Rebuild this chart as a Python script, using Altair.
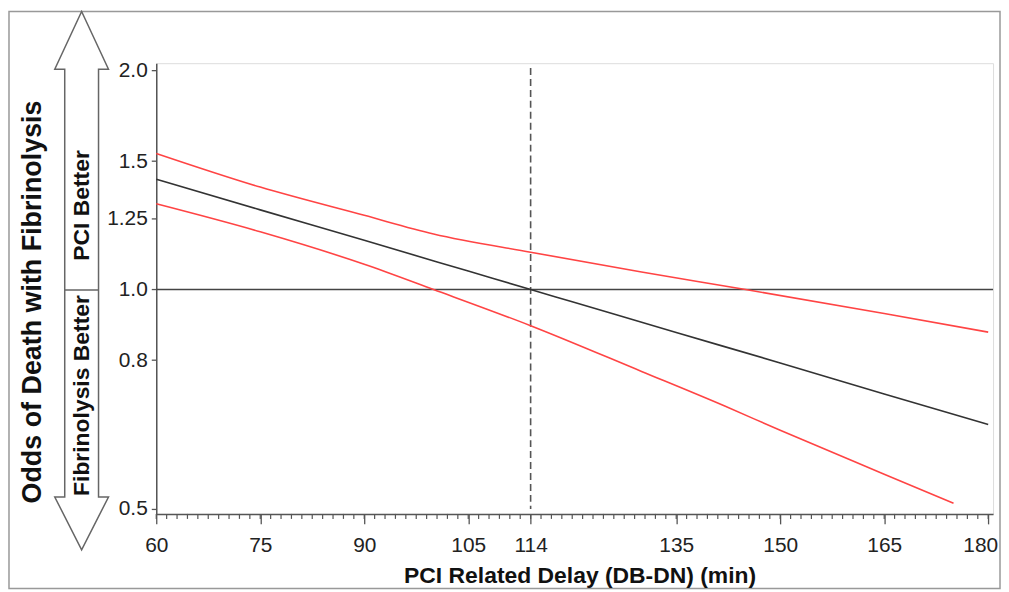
import altair as alt
import pandas as pd
import numpy as np

# ---- data ----
delay_mid = [60, 75, 90, 105, 114, 120, 135, 150, 165, 180]
odds_mid = [1.417, 1.286, 1.168, 1.060, 1.0, 0.962, 0.873, 0.793, 0.719, 0.653]

delay_upper = [60, 75, 90, 100, 114, 130, 145, 165, 180]
odds_upper = [1.537, 1.382, 1.264, 1.192, 1.125, 1.057, 1.0, 0.927, 0.874]

delay_lower = [60, 75, 90, 100, 114, 130, 142, 150, 165, 175]
odds_lower = [1.311, 1.200, 1.083, 1.0, 0.892, 0.772, 0.692, 0.641, 0.558, 0.509]

x_ticks = [60, 75, 90, 105, 114, 135, 150, 165, 180]
y_ticks = [0.5, 0.8, 1.0, 1.25, 1.5, 2.0]
minor_ticks = list(np.arange(60, 180.01, 1.5))
ref_delay = 114
ref_odds = 1.0

x_title = "PCI Related Delay (DB-DN) (min)"
y_title = "Odds of Death with Fibrinolysis"
upper_label = "PCI Better"
lower_label = "Fibrinolysis Better"

FONT = "Liberation Sans"
W, H = 841, 453

xscale = alt.Scale(domain=[60, 180.7], nice=False, zero=False)
yscale = alt.Scale(type="log", domain=[0.4922, 2.044], nice=False)

xaxis = alt.Axis(values=x_ticks, title=None, format="d", labelFont=FONT, labelFontSize=21,
                 labelColor="#222", tickSize=10, tickColor="#555", tickWidth=1.3,
                 domainColor="#555", domainWidth=1.5, labelPadding=11, grid=False,
                 labelFlush=False, labelOverlap=False,
                 labelOffset={"condition": {"test": "datum.value == 180", "value": -8}, "value": 0})
yaxis = alt.Axis(values=y_ticks, title=None, labelFont=FONT, labelFontSize=21,
                 labelColor="#222", tickSize=5, tickColor="#555", tickWidth=1.3,
                 domainColor="#555", domainWidth=1.5, labelPadding=4, grid=False,
                 labelOverlap=False,
                 labelExpr="datum.value == 2 ? '2.0' : datum.value == 1 ? '1.0' : format(datum.value, '.3~g')")

def X(field="delay"):
    return alt.X(f"{field}:Q", scale=xscale, axis=xaxis)

def Y(field="odds"):
    return alt.Y(f"{field}:Q", scale=yscale, axis=yaxis)

one = pd.DataFrame({"k": [0]})

# frame around figure
frame = alt.Chart(one).mark_rect(fillOpacity=0, stroke="#999", strokeWidth=1.5).encode(
    x=alt.value(-148), x2=alt.value(848), y=alt.value(-52), y2=alt.value(528))

# double arrow
arrow_path = ("M0,-1 L0.0998,-0.7856 L0.0628,-0.7856 L0.0628,0.8041 L0.0998,0.8041 L0,1 "
              "L-0.0998,0.8041 L-0.0628,0.8041 L-0.0628,-0.7856 L-0.0998,-0.7856 Z "
              "M-0.0628,0.0351 L0.0628,0.0351")
arrow = alt.Chart(one).mark_point(shape=arrow_path, filled=True, fill="white", stroke="#666",
                                  strokeWidth=1.5, opacity=1, size=541 * 541).encode(
    x=alt.value(-75), y=alt.value(218.5))

def vtext(txt, x, y, size):
    return alt.Chart(one).mark_text(text=txt, angle=270, font=FONT, fontSize=size,
                                    fontWeight="bold", color="#111", align="center",
                                    baseline="middle").encode(x=alt.value(x), y=alt.value(y))

t_upper = vtext(upper_label, -75, 143, 23)
t_lower = vtext(lower_label, -75, 334, 23)
t_ytitle = vtext(y_title, -124, 240, 27)
t_xtitle = alt.Chart(one).mark_text(text=x_title, font=FONT, fontSize=23, fontWeight="bold",
                                    color="#111", align="center", baseline="middle").encode(
    x=alt.value(426), y=alt.value(515))

# reference lines
hline = alt.Chart(pd.DataFrame({"odds": [ref_odds]})).mark_rule(color="#444", strokeWidth=1.3).encode(
    y=Y())
vline = alt.Chart(pd.DataFrame({"delay": [ref_delay], "odds": [2.013], "odds2": [0.5]})).mark_rule(
    color="#555", strokeWidth=1.6, strokeDash=[7, 4]).encode(x=X(), y=Y(), y2="odds2:Q")

# minor ticks
minor = alt.Chart(pd.DataFrame({"delay": minor_ticks})).mark_rule(color="#555", strokeWidth=1.2).encode(
    x=X(), y=alt.value(H), y2=alt.value(H + 5))

# curves
df = pd.concat([
    pd.DataFrame({"delay": delay_mid, "odds": odds_mid, "series": "estimate"}),
    pd.DataFrame({"delay": delay_upper, "odds": odds_upper, "series": "upper"}),
    pd.DataFrame({"delay": delay_lower, "odds": odds_lower, "series": "lower"}),
])
lines = alt.Chart(df).mark_line(strokeWidth=1.6, interpolate="monotone").encode(
    x=X(), y=Y(),
    color=alt.Color("series:N", scale=alt.Scale(domain=["estimate", "upper", "lower"],
                                                range=["#333333", "#ff4444", "#ff4444"]),
                    legend=None),
    detail="series:N")

chart = alt.layer(frame, arrow, t_upper, t_lower, t_ytitle, t_xtitle, hline, vline, minor, lines).properties(
    width=W, height=H,
    padding={"left": 149, "top": 54, "right": 8, "bottom": 76},
    autosize=alt.AutoSizeParams(type="none"),
).configure_view(stroke=None).configure(background="white")

chart.save("out.html", embed_options={"renderer": "svg", "actions": False})
